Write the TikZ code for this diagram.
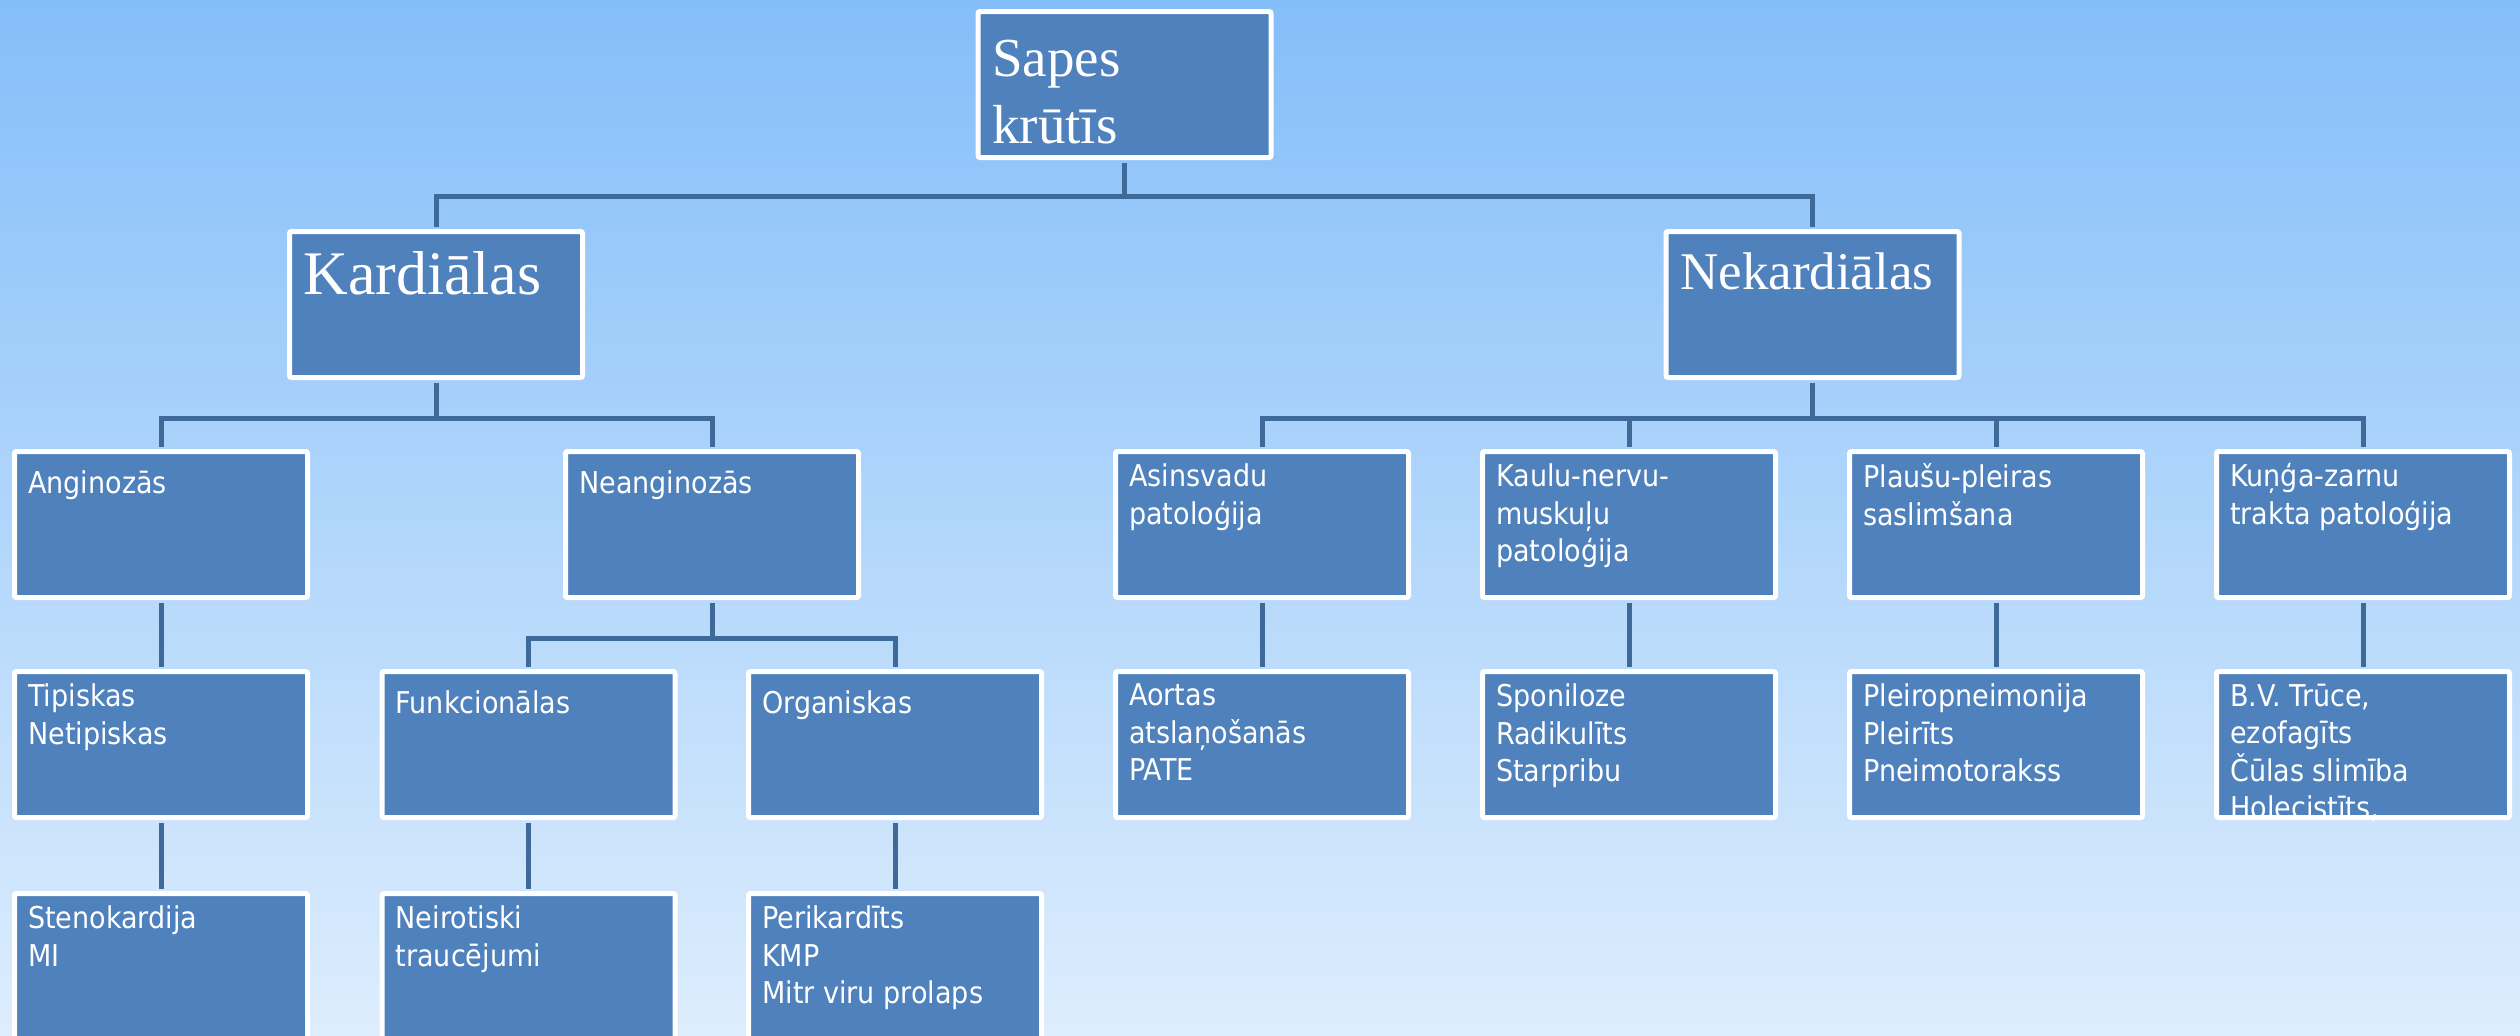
\documentclass[tikz,border=0pt]{standalone}
\usepackage{fontspec}
\setmainfont{Liberation Serif}
\newfontfamily\tahoma[FakeStretch=0.9]{DejaVu Sans}
\definecolor{boxblue}{RGB}{79,129,189}
\definecolor{lineblue}{RGB}{62,106,154}
\definecolor{skytop}{RGB}{132,190,249}
\definecolor{skybot}{RGB}{221,237,253}

\begin{document}
\begin{tikzpicture}[x=0.1mm,y=-0.1mm,
  box/.style={draw=white,line width=0.5mm,fill=boxblue,rounded corners=0.2mm,
    minimum width=29.3mm,minimum height=14.6mm,inner sep=0pt},
  txt/.style={anchor=north west,inner sep=0pt,text=white,align=left,
    xshift=1.55mm,yshift=-1.4mm,execute at begin node={\rule{0pt}{3mm}},
    font=\tahoma\fontsize{8.54}{10.67}\selectfont},
  stxt/.style={anchor=base west,inner sep=0pt,text=white,align=left,xshift=1.6mm},
  conn/.style={draw=lineblue,line width=0.5mm,shorten <=0.25mm,shorten >=0.25mm}]
\useasboundingbox (0,0) rectangle (2520,1035);
\shade[top color=skytop,bottom color=skybot] (0,0) rectangle (2520,1035);

% top levels
\node[box] (root) at (1124.5,84.5) {};
\node[box] (kard) at (436,304.5) {};
\node[box] (nekard) at (1812.5,304.5) {};
\node[stxt,anchor=north west,yshift=-3.05mm,execute at begin node={\rule{0pt}{6mm}},
  font=\fontsize{15.65}{19.06}\selectfont] (root-t) at (root.north west) {Sapes\\krūtīs};
\node[stxt,yshift=-6.55mm,font=\fontsize{17.64}{21}\selectfont] (kard-t) at (kard.north west) {Kardiālas};
\node[stxt,yshift=-6.05mm,font=\fontsize{15.08}{18}\selectfont] (nekard-t) at (nekard.north west) {Nekardiālas};

% second row
\node[box] (ang) at (161,524.5) {};
\node[box] (neang) at (712,524.5) {};
\node[box] (asins) at (1262,524.5) {};
\node[box] (kaulu) at (1629,524.5) {};
\node[box] (plausu) at (1996,524.5) {};
\node[box] (kunga) at (2363,524.5) {};
\node[txt] (ang-t) at (ang.north west) {Anginozās};
\node[txt] (neang-t) at (neang.north west) {Neanginozās};
\node[txt] (asins-t) at (asins.north west) {Asinsvadu\\patoloģija};
\node[txt] (kaulu-t) at (kaulu.north west) {Kaulu-nervu-\\muskuļu\\patoloģija};
\node[txt] (plausu-t) at (plausu.north west) {Plaušu-pleiras\\saslimšana};
\node[txt] (kunga-t) at (kunga.north west) {Kuņģa-zarnu\\trakta patoloģija};

% third row
\node[box] (tip) at (161,744.5) {};
\node[box] (funk) at (528.5,744.5) {};
\node[box] (org) at (895,744.5) {};
\node[box] (aort) at (1262,744.5) {};
\node[box] (spon) at (1629,744.5) {};
\node[box] (pleir) at (1996,744.5) {};
\node[box] (bv) at (2363,744.5) {};
\node[txt] (tip-t) at (tip.north west) {Tipiskas\\Netipiskas};
\node[txt] (funk-t) at (funk.north west) {Funkcionālas};
\node[txt] (org-t) at (org.north west) {Organiskas};
\node[txt] (aort-t) at (aort.north west) {Aortas\\atslaņošanās\\PATE};
\node[txt] (spon-t) at (spon.north west) {Sponiloze\\Radikulīts\\Starpribu};
\node[txt] (pleir-t) at (pleir.north west) {Pleiropneimonija\\Pleirīts\\Pneimotorakss};
\node[txt] (bv-t) at (bv.north west) {B.V. Trūce,\\ezofagīts\\Čūlas slimība\\Holecistīts,};

% fourth row
\node[box] (steno) at (161,966.5) {};
\node[box] (neir) at (528.5,966.5) {};
\node[box] (peri) at (895,966.5) {};
\node[txt] (steno-t) at (steno.north west) {Stenokardija\\MI};
\node[txt] (neir-t) at (neir.north west) {Neirotiski\\traucējumi};
\node[txt] (peri-t) at (peri.north west) {Perikardīts\\KMP\\Mitr viru prolaps};

% connectors
\draw[conn] (root.south) -- ++(0,36) -| (kard.north);
\draw[conn] (root.south) -- ++(0,36) -| (nekard.north);
\draw[conn] (kard.south) -- ++(0,38) -| (ang.north);
\draw[conn] (kard.south) -- ++(0,38) -| (neang.north);
\foreach \c in {asins,kaulu,plausu,kunga}
  \draw[conn] (nekard.south) -- ++(0,38) -| (\c.north);
\draw[conn] (neang.south) -- ++(0,38) -| (funk.north);
\draw[conn] (neang.south) -- ++(0,38) -| (org.north);
\draw[conn] (ang.south) -- (tip.north);
\draw[conn] (tip.south) -- (steno.north);
\draw[conn] (funk.south) -- (neir.north);
\draw[conn] (org.south) -- (peri.north);
\draw[conn] (asins.south) -- (aort.north);
\draw[conn] (kaulu.south) -- (spon.north);
\draw[conn] (plausu.south) -- (pleir.north);
\draw[conn] (kunga.south) -- (bv.north);
\end{tikzpicture}
\end{document}
